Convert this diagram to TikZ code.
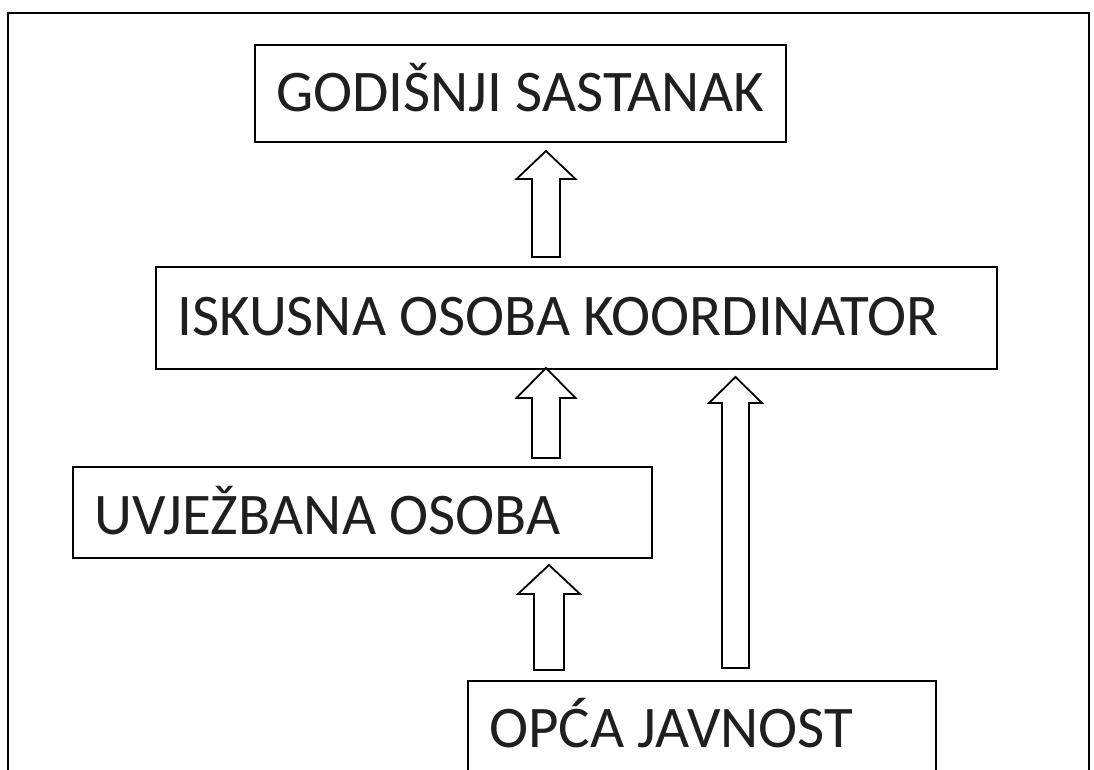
\documentclass[tikz,border=0pt]{standalone}
\usepackage{fontspec}
\setmainfont{Carlito}
\begin{document}
\begin{tikzpicture}[x=1pt,y=-1pt,
  box/.style={draw=black, line width=2.2pt, inner sep=0pt, anchor=north west},
  lbl/.style={anchor=base west, inner sep=0pt, text=black!88, font=\fontsize{59}{70}\selectfont},
  blk/.style={draw=black, line width=1.8pt, fill=white, line join=miter},
  frame/.style={draw=black, line width=2.2pt}]
\useasboundingbox (0,0) rectangle (1094,770);
\clip (0,0) rectangle (1094,770);
\draw[frame] (8,780) -- (8,13) -- (1089,13) -- (1089,780);
% boxes
\node[box, minimum width=531pt, minimum height=97pt] (b1) at (254,44) {};
\node[box, minimum width=841pt, minimum height=102pt] (b2) at (155,266) {};
\node[box, minimum width=579pt, minimum height=91pt] (b3) at (72,466) {};
\node[box, minimum width=468pt, minimum height=140pt] (b4) at (467,680) {};
% labels
\node[lbl] (t1) at ([xshift=22pt,yshift=-68pt]b1.north west) {GODIŠNJI SASTANAK};
\node[lbl] (t2) at ([xshift=22pt,yshift=-69pt]b2.north west) {ISKUSNA OSOBA KOORDINATOR};
\node[lbl] (t3) at ([xshift=22pt,yshift=-68pt]b3.north west) {UVJEŽBANA OSOBA};
\node[lbl] (t4) at ([xshift=22pt,yshift=-67pt]b4.north west) {OPĆA JAVNOST};
% block arrows
\newcommand{\blockarrow}[6]{% xc, ybottom, yheadbase, ytip, shafthalf, headhalf
  \draw[blk] (#1-#5,#2) -- (#1-#5,#3) -- (#1-#6,#3) -- (#1,#4) -- (#1+#6,#3) -- (#1+#5,#3) -- (#1+#5,#2) -- cycle;}
\blockarrow{546}{257}{179}{151}{14}{29.5}
\blockarrow{546}{458}{398}{368}{14}{29.5}
\blockarrow{735.5}{668}{403}{377}{13.5}{26.5}
\blockarrow{549}{670}{594}{565}{15}{31}
\end{tikzpicture}
\end{document}
